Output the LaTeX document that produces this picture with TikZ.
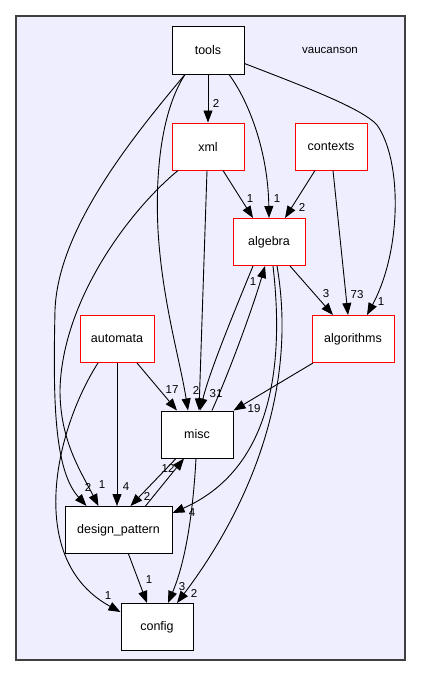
\documentclass[tikz,border=0pt]{standalone}
\usepackage{fontspec}
\setmainfont{Liberation Sans}
\usetikzlibrary{arrows.meta}
\definecolor{dirbg}{RGB}{238,238,255}
\begin{document}
\begin{tikzpicture}[x=1pt, y=-1pt,
    dir/.style={rectangle,draw,fill=white,line width=1pt,minimum width=72pt,minimum height=47pt,font=\fontsize{12.5}{14}\selectfont},
    reddir/.style={dir,draw=red},
    lbl/.style={inner sep=0pt,font=\fontsize{11.5}{13}\selectfont},
    dep/.style={-{Triangle[length=12pt,width=9pt]}, line width=0.9pt, black}]
    \useasboundingbox (0,0) rectangle (421,677);
    \draw[fill=dirbg, draw=black!75, line width=1.2pt] (16,16) rectangle (405,660);
    \node[inner sep=0pt, font=\fontsize{11.5}{13}\selectfont] (vaucanson) at (330,50) {vaucanson};
    \node[dir] (tools) at (208,50.5) {tools};
    \node[reddir] (xml) at (208,146.5) {xml};
    \node[reddir] (contexts) at (331,146.5) {contexts};
    \node[reddir] (algebra) at (269,242) {algebra};
    \node[reddir, minimum width=74pt] (automata) at (117,339) {automata};
    \node[reddir, minimum width=82pt] (algorithms) at (353,339) {algorithms};
    \node[dir] (misc) at (197,434.5) {misc};
    \node[dir, minimum width=107pt] (design_pattern) at (118.5,530) {design\_pattern};
    \node[dir] (config) at (157,627) {config};
    \draw[dep] (tools) -- (xml) node[lbl] at (216,103) {2};
    \draw[dep] ([xshift=21pt]tools.south) .. controls (248,100) and (268,150) .. (algebra.north) node[lbl] at (277,199) {1};
    \draw[dep] ([yshift=-13pt]tools.east) .. controls (300,85) and (362,108) .. (377,125) .. controls (402,160) and (402,250) .. ([xshift=14pt]algorithms.north) node[lbl] at (381,302) {1};
    \draw[dep] ([xshift=-23pt]tools.south) .. controls (162,110) and (155,170) .. (158,230) .. controls (162,300) and (180,360) .. ([xshift=-9pt]misc.north) node[lbl] at (196,390) {2};
    \draw[dep] ([xshift=-23pt]tools.south) .. controls (130,140) and (58,230) .. (55,310) .. controls (53,400) and (54,470) .. ([xshift=-32pt]design_pattern.north) node[lbl] at (88,487) {2};
    \draw[dep] ([xshift=-30pt]xml.south) .. controls (130,210) and (62,300) .. (60,390) .. controls (60,440) and (80,470) .. ([xshift=-20pt]design_pattern.north) node[lbl] at (102,485) {1};
    \draw[dep] ([xshift=15pt]xml.south) -- ([xshift=-16pt]algebra.north) node[lbl] at (250,199) {1};
    \draw[dep] ([xshift=-16pt]contexts.south) -- ([xshift=16pt]algebra.north) node[lbl] at (302,207) {2};
    \draw[dep] ([xshift=2pt]contexts.south) -- ([xshift=-5pt]algorithms.north) node[lbl] at (357,295) {73};
    \draw[dep] ([xshift=21pt]algebra.south) -- ([xshift=-20pt]algorithms.north) node[lbl] at (326,294) {3};
    \draw[dep] ([xshift=-16pt]algebra.south) .. controls (235,310) and (210,370) .. ([xshift=3pt]misc.north) node[lbl] at (216,394) {31};
    \draw[dep] ([xshift=15pt]misc.north) .. controls (230,370) and (252,310) .. ([xshift=-4pt]algebra.south) node[lbl] at (253,282) {1};
    \draw[dep] ([xshift=-1pt]xml.south) -- ([xshift=2pt]misc.north);
    \draw[dep] ([xshift=4pt]algebra.south) .. controls (285,370) and (270,470) .. ([yshift=17pt]design_pattern.east) node[lbl] at (192,513) {4};
    \draw[dep] ([xshift=8pt]algebra.south) .. controls (300,400) and (240,520) .. ([xshift=20pt]config.north) node[lbl] at (194,593) {2};
    \draw[dep] ([xshift=-40pt]algorithms.south) -- (misc.north east) node[lbl] at (254,409) {19};
    \draw[dep] ([xshift=20pt]automata.south) -- ([xshift=-20pt]misc.north) node[lbl] at (172,390) {17};
    \draw[dep] (automata.south) -- (automata.south |- design_pattern.north) node[lbl] at (126,487) {4};
    \draw[dep] ([xshift=-19pt]automata.south) .. controls (55,430) and (25,560) .. ([yshift=15pt]config.west) node[lbl] at (108,596) {1};
    \draw[dep] ([xshift=-21pt]misc.south) -- ([xshift=12pt]design_pattern.north) node[lbl] at (147,496) {2};
    \draw[dep] ([xshift=27pt]design_pattern.north) -- ([xshift=-13pt]misc.south) node[lbl] at (168,468) {12};
    \draw[dep] ([xshift=10pt]design_pattern.south) -- ([xshift=-10pt]config.north) node[lbl] at (149,580) {1};
    \draw[dep] ([xshift=-1pt]misc.south) .. controls (192,530) and (182,570) .. ([xshift=11pt]config.north) node[lbl] at (182,587) {3};
\end{tikzpicture}
\end{document}
